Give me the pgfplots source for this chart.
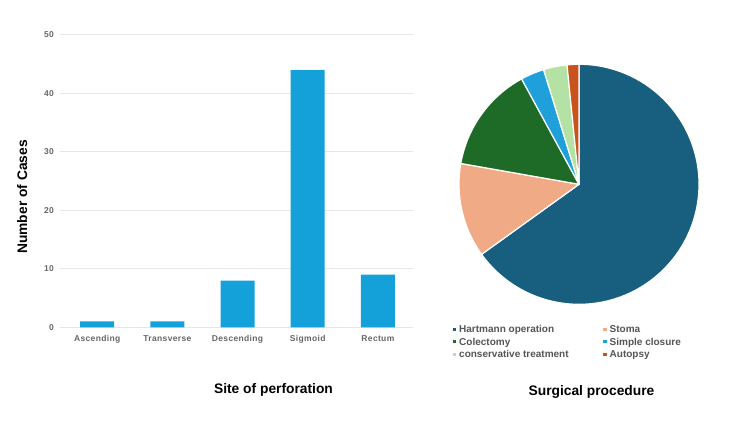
\documentclass[border=0pt]{standalone}
\usepackage{fontspec}
\setmainfont{Liberation Sans}
\newfontfamily\tickfont{Liberation Sans}[LetterSpace=4]
\usepackage{pgfplots}
\usepackage{pgfplotstable}
\pgfplotsset{compat=1.18}

\definecolor{barblue}{HTML}{14A0D8}
\definecolor{gridgray}{HTML}{E6E6E6}
\definecolor{tickgray}{HTML}{666666}
\definecolor{leggray}{HTML}{555555}
\definecolor{pie0}{HTML}{175E7F}
\definecolor{pie1}{HTML}{F0AB86}
\definecolor{pie2}{HTML}{1D6B26}
\definecolor{pie3}{HTML}{1FA0DA}
\definecolor{pie4}{HTML}{B4E2A4}
\definecolor{pie5}{HTML}{C7531E}

% site of perforation
\pgfplotstableread{
pos cases
0 1
1 1
2 8
3 44
4 9
}\bardata

% surgical procedure (clockwise from 12 o'clock)
\pgfplotstableread{
proc value
Hartmann 41
Stoma 8
Colectomy 9
Closure 2
Conservative 2
Autopsy 1
}\piedata

\newcommand\axlab{\bfseries\fontsize{13.8bp}{16bp}\selectfont}
\newcommand\ticklab{\tickfont\bfseries\fontsize{8.5bp}{10bp}\selectfont}
\newcommand\leglab{\bfseries\fontsize{10bp}{12bp}\selectfont\color{leggray}}

\begin{document}
\begin{tikzpicture}
\path[use as bounding box] (0,0) rectangle (750bp,422bp);

% cumulative angles of the pie
\def\piesum{0}
\foreach \i in {0,...,5}{%
  \pgfplotstablegetelem{\i}{value}\of\piedata
  \pgfmathsetmacro\tmp{\piesum+\pgfplotsretval}%
  \xdef\piesum{\tmp}}
\def\piecum{0}
\foreach \i in {0,...,5}{%
  \pgfplotstablegetelem{\i}{value}\of\piedata
  \pgfmathsetmacro\sa{90-360*(\piecum/\piesum)}%
  \pgfmathsetmacro\nc{\piecum+\pgfplotsretval}%
  \pgfmathsetmacro\ea{90-360*(\nc/\piesum)}%
  \expandafter\xdef\csname pieS\i\endcsname{\sa}%
  \expandafter\xdef\csname pieE\i\endcsname{\ea}%
  \xdef\piecum{\nc}}

\begin{axis}[
  at={(60bp,94.7bp)}, anchor=south west,
  scale only axis, width=353bp, height=292.3bp,
  xmin=-0.53, xmax=4.5, ymin=0, ymax=50,
  xtick={0,...,4},
  xticklabels={Ascending,Transverse,Descending,Sigmoid,Rectum},
  ytick={0,10,...,50},
  axis line style={draw=none}, major tick length=0pt,
  ymajorgrids, grid style={color=gridgray, line width=1bp},
  ticklabel style={font=\ticklab, text=tickgray, inner sep=0pt},
  yticklabel style={anchor=east, xshift=-6bp},
  xticklabel style={anchor=base, yshift=-14bp},
  /pgf/number format/assume math mode=true,
  ybar, bar width=34bp, bar shift=0pt,
  clip=false,
]
\addplot[fill=barblue, draw=none] table[x=pos, y=cases] {\bardata};
\end{axis}

\node[font=\axlab, rotate=90, anchor=base] at (27bp,225bp) {Number of Cases};
\node[font=\axlab, anchor=base] at (273.5bp,29bp) {Site of perforation};

\begin{axis}[
  at={(579bp,237.7bp)}, anchor=center,
  scale only axis, width=240bp, height=240bp,
  xmin=-1, xmax=1, ymin=-1, ymax=1,
  hide axis, clip=false,
]
\pgfplotsinvokeforeach{0,...,5}{%
  \edef\temp{\noexpand\fill[fill=pie#1, draw=white, line width=1.2bp, line join=round]
    (axis cs:0,0) -- ++(\csname pieS#1\endcsname:120bp)
    arc[start angle=\csname pieS#1\endcsname, end angle=\csname pieE#1\endcsname, radius=120bp]
    -- cycle;}%
  \temp
}
\end{axis}

% legend
\foreach \c/\x/\y/\t in {pie0/454.5/89/Hartmann operation,
                         pie2/454.5/76.5/Colectomy,
                         pie4/454.5/64/conservative treatment,
                         pie1/605/89/Stoma,
                         pie3/605/76.5/Simple closure,
                         pie5/605/64/Autopsy}{%
  \fill[\c] (\x bp-1.6bp,\y bp+2bp) rectangle ++(3.2bp,3.2bp);
  \node[font=\leglab, anchor=base west, inner sep=0pt] at (\x bp+4.5bp,\y bp) {\t};
}
\node[font=\axlab, anchor=base] at (591.5bp,27bp) {Surgical procedure};
\end{tikzpicture}
\end{document}
